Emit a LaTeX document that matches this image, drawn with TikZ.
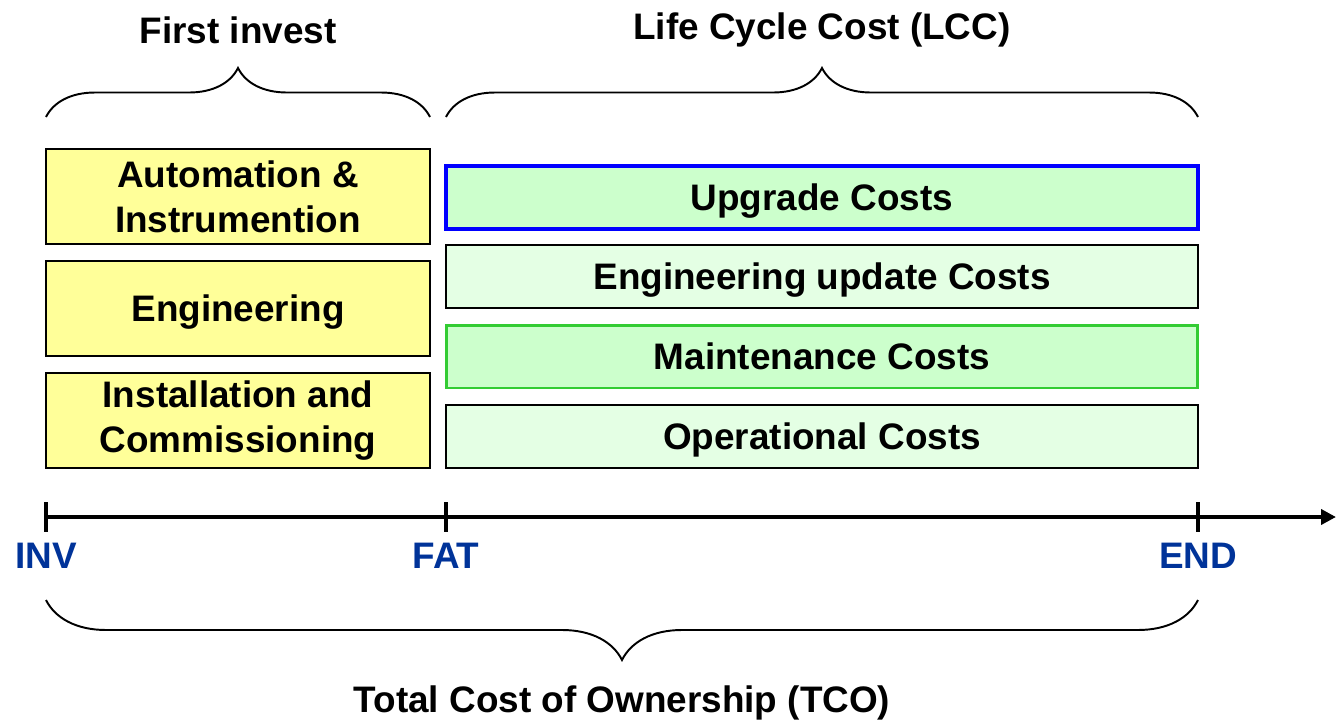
\documentclass[tikz,border=0pt]{standalone}
\usepackage{fontspec}
\setmainfont{Liberation Sans}
\usetikzlibrary{decorations.pathreplacing,arrows.meta}
\definecolor{invyellow}{HTML}{FFFF99}
\definecolor{lccgreen}{HTML}{CCFFCC}
\definecolor{lccpale}{HTML}{E4FFE4}
\definecolor{axisblue}{HTML}{003399}
\definecolor{upblue}{HTML}{0000FF}
\definecolor{maintgreen}{HTML}{33CC33}
\begin{document}
\begin{tikzpicture}[x=0.02cm,y=-0.02cm,font=\fontsize{21}{25.5}\selectfont\bfseries]
	\tikzstyle{first}=[draw,line width=1.1pt,fill=invyellow,minimum width=7.68cm,minimum height=1.9cm,align=center,inner sep=0pt];
	\tikzstyle{life}=[draw,line width=1.1pt,fill=lccpale,minimum width=15.04cm,minimum height=1.26cm,inner sep=0pt,text depth=0.02em];
	\tikzstyle{curly}=[line width=1.1pt,decorate];
	\tikzstyle{milestone}=[text=axisblue];
	\useasboundingbox (0,0) rectangle (1336,724);

	\node[first] (auto)  at (238,196.5) {Automation \&\\Instrumention};
	\node[first,text depth=0.02em] (eng) at (238,308.5) {Engineering};
	\node[first] (inst)  at (238,420.5) {Installation and\\Commissioning};
	\node[life,draw=upblue,line width=2.3pt,fill=lccgreen] (upg) at (822,197.5) {Upgrade Costs};
	\node[life] (engup)  at (822,276.5) {Engineering update Costs};
	\node[life,draw=maintgreen,line width=1.7pt,fill=lccgreen] (maint) at (822,356.5) {Maintenance Costs};
	\node[life] (oper)   at (822,436.5) {Operational Costs};

	\coordinate (fl) at (46,117);   \coordinate (fr) at (430,117);
	\coordinate (ll) at (446,117);  \coordinate (lr) at (1198,117);
	\coordinate (tl) at (46,600);   \coordinate (tr) at (1198,600);
	\draw[curly,decoration={brace,amplitude=0.98cm}] (fl) -- (fr);
	\draw[curly,decoration={brace,amplitude=0.98cm}] (ll) -- (lr);
	\draw[curly,decoration={brace,amplitude=1.2cm}] (tr) -- (tl);
	\node (firsttitle) at (238,30)  {First invest};
	\node (lcctitle)   at (822,30)  {Life Cycle Cost (LCC)};
	\node (tcotitle)   at (622,703) {Total Cost of Ownership (TCO)};

	\coordinate (inv) at (46,517);
	\coordinate (fat) at (446,517);
	\coordinate (end) at (1198,517);
	\coordinate (tip) at (1336,517);
	\draw[line width=2.3pt,-{Triangle[length=0.3cm,width=0.3cm]}] (inv) -- (tip);
	\foreach \p in {inv,fat,end}
		\draw[line width=2.3pt] (\p) ++(0,-15) -- ++(0,30);
	\node[milestone] (invlab) at (46,556)   {INV};
	\node[milestone] (fatlab) at (446,556)  {FAT};
	\node[milestone] (endlab) at (1198,556) {END};
\end{tikzpicture}
\end{document}
